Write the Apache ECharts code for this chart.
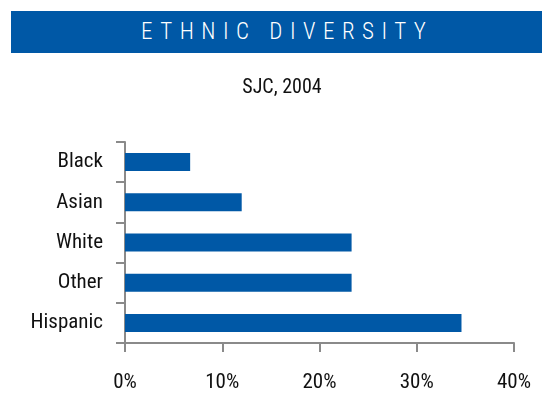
<!DOCTYPE html>
<html>
<head>
<meta charset="utf-8">
<script src="https://cdn.jsdelivr.net/npm/echarts@6/dist/echarts.min.js"></script>
<style>
  html, body { margin: 0; padding: 0; background: #fff; }
  #wrap { position: relative; width: 542px; height: 393px; overflow: hidden; }
  #banner {
    position: absolute; left: 11px; top: 11px; width: 531px; height: 42px;
    background: #0058A6; color: #fff;
    font-family: "Roboto Condensed", "Liberation Sans", sans-serif;
    font-weight: 300; font-size: 23px; letter-spacing: 7.5px; line-height: 42px;
  }
  #banner span { position: absolute; left: 130px; top: 0; white-space: nowrap; }
  #chart { position: absolute; left: 0; top: 0; width: 542px; height: 393px; }
</style>
</head>
<body>
<div id="wrap">
  <div id="chart"></div>
  <div id="banner"><span>ETHNIC DIVERSITY</span></div>
</div>
<script>
// Ethnic composition, SJC 2004 (percent of population)
const categories = ['Black', 'Asian', 'White', 'Other', 'Hispanic'];
const shares = [6.7, 12.0, 23.3, 23.3, 34.6];
const xTicks = { min: 0, max: 40, interval: 10 };

const FONT = '"Roboto Condensed", "Liberation Sans", sans-serif';
const AXIS = { lineStyle: { color: '#8a8a8a', width: 2 } };

const chart = echarts.init(document.getElementById('chart'), null, { renderer: 'canvas' });
chart.setOption({
  animation: false,
  title: {
    text: 'SJC, 2004',
    left: 277, top: 73, textAlign: 'center',
    textStyle: { fontFamily: FONT, fontSize: 20, fontWeight: 'normal', color: '#111' }
  },
  grid: { left: 125, right: 28, top: 142, bottom: 45, containLabel: false },
  xAxis: {
    type: 'value',
    min: xTicks.min, max: xTicks.max, interval: xTicks.interval,
    axisLine: { show: true, ...AXIS },
    axisTick: { show: true, length: 9, ...AXIS },
    splitLine: { show: false },
    axisLabel: {
      formatter: '{value}%', margin: 29,
      fontFamily: FONT, fontSize: 21, color: '#111'
    }
  },
  yAxis: {
    type: 'category', data: categories, inverse: true,
    axisLine: { show: true, ...AXIS },
    axisTick: { show: true, length: 9, alignWithLabel: false, ...AXIS },
    axisLabel: { margin: 22, fontFamily: FONT, fontSize: 21, color: '#111' }
  },
  series: [{
    type: 'bar', data: shares, barWidth: 18,
    itemStyle: { color: '#0058A6' }
  }]
});
</script>
</body>
</html>
